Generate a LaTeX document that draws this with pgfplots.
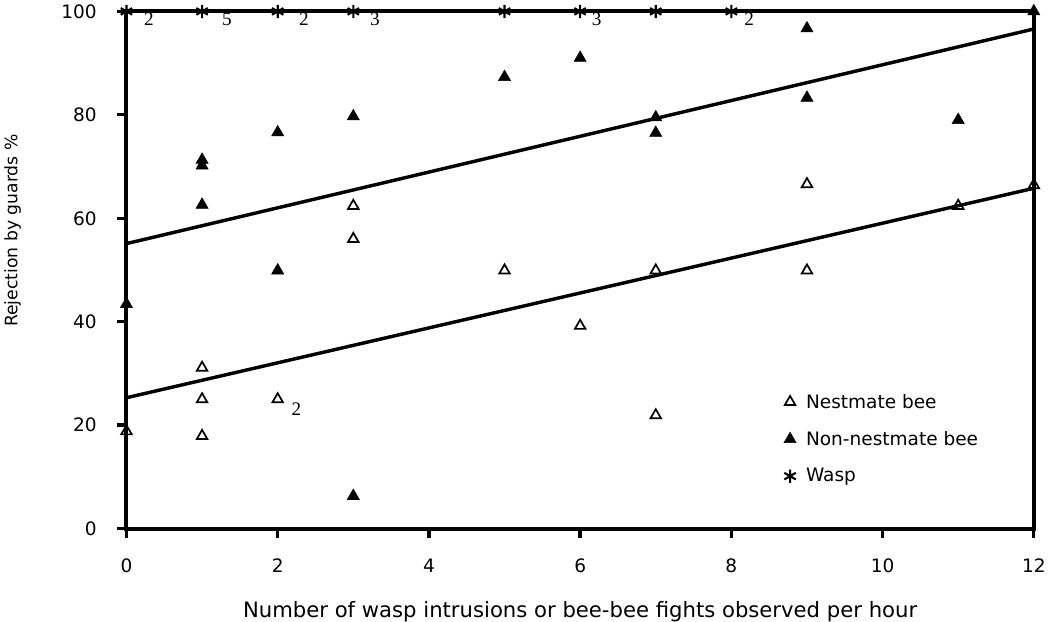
\documentclass[border=0pt]{standalone}
\usepackage{pgfplots}
\pgfplotsset{compat=1.18}
\usepackage{fontspec}
\setmainfont{DejaVu Sans}
\newfontfamily\serif{Liberation Serif}

\begin{document}
\begin{tikzpicture}
\begin{axis}[
  scale only axis,
  width=686pt, height=391pt,
  xmin=0, xmax=12, ymin=0, ymax=100,
  xtick={0,2,...,12}, ytick={0,20,...,100},
  tick align=outside,
  xtick pos=bottom, ytick pos=left,
  major tick length=7pt,
  axis line style={line width=3pt},
  every tick/.style={line width=2.5pt, black},
  tick label style={font=\fontsize{14}{16}\selectfont},
  /pgf/number format/assume math mode=true,
  xticklabel style={yshift=-12.5pt},
  yticklabel style={xshift=-12pt},
  xlabel={Number of wasp intrusions or bee-bee fights observed per hour},
  ylabel={Rejection by guards \%},
  xlabel style={font=\fontsize{16}{18}\selectfont, at={(axis description cs:0.5,0)}, anchor=base, inner sep=0pt, yshift=-67pt},
  ylabel style={font=\fontsize{13}{15}\selectfont, at={(axis description cs:0,0.576)}, anchor=center, yshift=86pt},
  clip=false,
  legend style={at={(axis description cs:0.72,0.271)}, anchor=north west, draw=none, fill=none,
    font=\fontsize{14}{16}\selectfont, row sep=12pt, nodes={inner xsep=7.5pt}},
  legend cell align=left,
]
% nestmate bee
\addplot[only marks, mark=triangle, mark size=4.6pt, mark options={line width=1.3pt, fill=white}]
  coordinates {(0,18.8) (1,31.1) (1,25) (1,17.9) (2,25) (3,62.4) (3,56)
   (5,49.9) (6,39.2) (7,49.9) (7,21.9) (9,66.6) (9,49.9) (11,62.4) (12,66.4)};
\addlegendentry{Nestmate bee}
% non-nestmate bee
\addplot[only marks, mark=triangle*, mark size=5.3pt, black]
  coordinates {(0,43.4) (1,71.3) (1,70.2) (1,62.6) (2,49.9) (2,76.6) (3,79.7)
   (3,6.3) (5,87.3) (6,91) (7,79.5) (7,76.5) (9,96.7) (9,83.3) (11,79) (12,100)};
\addlegendentry{Non-nestmate bee}
% wasp
\addplot[only marks, mark=asterisk, mark size=5pt, mark options={line width=1.6pt}]
  coordinates {(0,100) (1,100) (2,100) (3,100) (5,100) (6,100) (7,100) (8,100)};
\addlegendentry{Wasp}
% regression lines
\addplot[line width=2.6pt, black, forget plot] coordinates {(0,55.1) (12,96.6)};
\addplot[line width=2.6pt, black, forget plot] coordinates {(0,25.3) (12,65.8)};
% sample sizes
\begin{scope}[every node/.style={font=\serif\fontsize{14.5}{15}\selectfont, anchor=north west, inner sep=0pt}]
\node at (axis cs:0.23,99.7) {2};
\node at (axis cs:1.26,99.7) {5};
\node at (axis cs:2.28,99.7) {2};
\node at (axis cs:3.22,99.7) {3};
\node at (axis cs:6.15,99.7) {3};
\node at (axis cs:8.17,99.7) {2};
\node at (axis cs:2.18,24.4) {2};
\end{scope}
\end{axis}
\end{tikzpicture}
\end{document}
